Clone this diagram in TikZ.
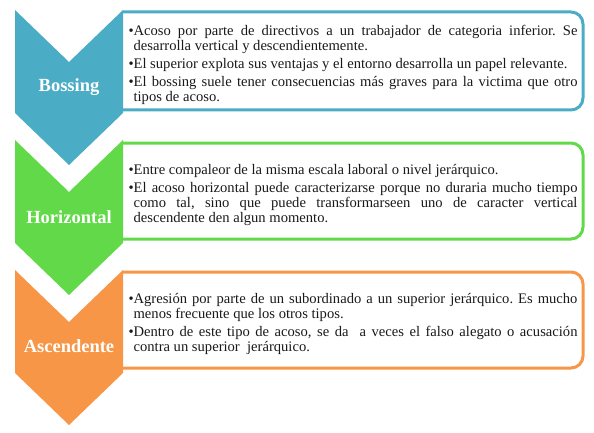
\documentclass[tikz,border=0pt]{standalone}
\usepackage{fontspec}
\setmainfont{Liberation Serif}
\definecolor{cblue}{RGB}{75,172,198}
\definecolor{cgreen}{RGB}{98,217,73}
\definecolor{corange}{RGB}{247,150,70}
\newlength\bulw
\newcommand\bitem{\par\noindent\hangindent=\bulw\hangafter=1 \textbullet}
\newcommand\txtsetup{\fontsize{14.6}{15}\selectfont\frenchspacing\settowidth{\bulw}{\textbullet}\parskip=3pt\hyphenpenalty=10000\exhyphenpenalty=10000\tolerance=9999\emergencystretch=20pt}
\tikzset{
  chev/.style={draw=none},
  boxline/.style={line width=3pt},
  txt/.style={text width=449pt, align=justify, inner sep=0pt, font=\txtsetup, text=black!90},
  lab/.style={text=white, font=\fontsize{18.5}{20}\selectfont\bfseries, inner sep=0pt}
}
\begin{document}
\begin{tikzpicture}[x=1pt,y=1pt]
\useasboundingbox (0,0) rectangle (594,432);
% boxes
\draw[boxline, cblue] (123,420) -- (571,420) arc[start angle=90,end angle=0,radius=12] -- (583,334) arc[start angle=0,end angle=-90,radius=12] -- (123,322);
\draw[boxline, cgreen] (123,289) -- (571,289) arc[start angle=90,end angle=0,radius=12] -- (583,205) arc[start angle=0,end angle=-90,radius=12] -- (123,193);
\draw[boxline, corange] (123,160) -- (571,160) arc[start angle=90,end angle=0,radius=12] -- (583,76) arc[start angle=0,end angle=-90,radius=12] -- (123,64);
% chevrons
\fill[cblue] (15,422) -- (69,370) -- (123,422) -- (123,319) -- (69,267) -- (15,319) -- cycle;
\fill[cgreen] (15,292) -- (69,240) -- (123,292) -- (123,189) -- (69,137) -- (15,189) -- cycle;
\fill[corange] (15,162) -- (69,110) -- (123,162) -- (123,59) -- (69,7) -- (15,59) -- cycle;
% labels
\node[lab] (l1) at (69,345) {Bossing};
\node[lab] (l2) at (69,215) {Horizontal};
\node[lab] (l3) at (69,86) {Ascendente};
% texts
\node[txt] (t1) at (353,371) {\bitem Acoso por parte de directivos a un trabajador de categoria inferior. Se\linebreak desarrolla vertical y descendientemente.
\bitem El superior explota sus ventajas y el entorno desarrolla un papel relevante.
\bitem El bossing suele tener consecuencias más graves para la victima que otro\linebreak tipos de acoso.\par};
\node[txt] (t2) at (353,241) {\bitem Entre compaleor de la misma escala laboral o nivel jerárquico.
\bitem El acoso horizontal puede caracterizarse porque no duraria mucho tiempo\linebreak como tal, sino que puede transformarseen uno de caracter vertical\linebreak descendente den algun momento.\par};
\node[txt] (t3) at (353,112) {\bitem Agresión por parte de un subordinado a un superior jerárquico. Es mucho\linebreak menos frecuente que los otros tipos.
\bitem Dentro de este tipo de acoso, se da\ \ a veces el falso alegato o acusación\linebreak contra un superior\ \ jerárquico.\par};
\end{tikzpicture}
\end{document}
